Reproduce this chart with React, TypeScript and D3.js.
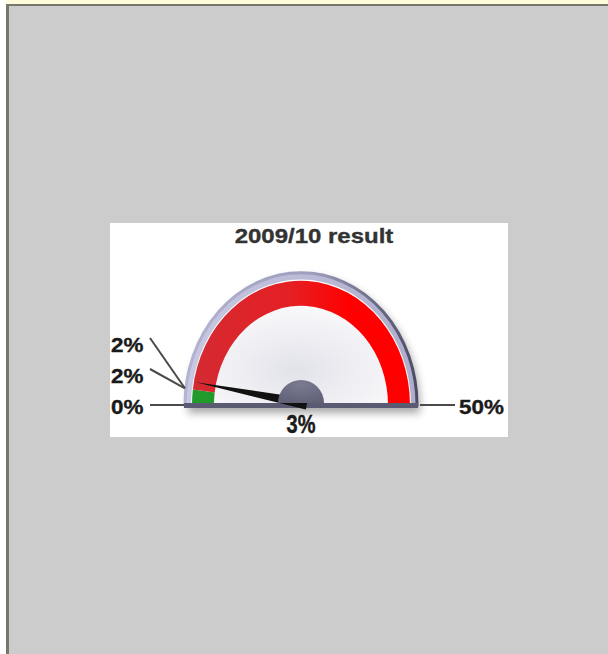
import * as d3 from 'd3'

// gauge data
const scaleMin = 0
const scaleMax = 50
const rangeStart = [0, 2]
const rangeEnd = [2, 50]
const rangeFill = ['#1f9a2b', 'url(#redBand)']
const needleValue = 3
const leftLabels = [0, 2, 2] // bottom to top
const rightLabels = [50]
const title = '2009/10 result'

const W = 608
const H = 654
const panel = { x: 110, y: 223, w: 398, h: 214 }
const cx = 301
const cy = 405
const SY = 1.14 // the dial is drawn a bit taller than wide
const R = { bezel: 116, face: 110, bandOut: 109, bandIn: 87, needle: 107, hub: 23, label: 117 }

const angle = d3.scaleLinear().domain([scaleMin, scaleMax]).range([-Math.PI / 2, Math.PI / 2])
const pt = (v: number, r: number): [number, number] => [
  cx + r * Math.sin(angle(v)),
  cy - r * Math.cos(angle(v)) * SY,
]
const fmt = (v: number) => `${v}%`

const arc = d3.arc<any>()
const half = (r: number) =>
  arc({ innerRadius: 0, outerRadius: r, startAngle: -Math.PI / 2, endAngle: Math.PI / 2 }) as string

function Label({ x, y, text, sx = 1.15, sy = 1, anchor = 'start', size = 19.5, fill = '#1a1a1a' }: any) {
  return (
    <text
      transform={`translate(${x},${y}) scale(${sx},${sy})`}
      textAnchor={anchor}
      fontFamily="'Liberation Sans', Arial, sans-serif"
      fontWeight="bold"
      fontSize={size}
      fill={fill}
      stroke={fill}
      strokeWidth={0.35}
    >
      {text}
    </text>
  )
}

export default function App() {
  // stack the left labels so they do not overlap
  let prev = Infinity
  const left = leftLabels.map(v => {
    const [ax, ay] = pt(v, R.label)
    const y = Math.min(ay + 2, prev - 31)
    prev = y
    const stacked = y < ay - 3
    return { v, ax, ay, y, ly: stacked ? y - 7 : ay }
  })
  const right = rightLabels.map(v => {
    const [ax, ay] = pt(v, R.label)
    return { v, ax, ay, y: ay + 2 }
  })

  const [tx, ty] = pt(needleValue, R.needle)
  const px = cx, py = cy - 2
  const len = Math.hypot(tx - px, ty - py)
  const nx = -(ty - py) / len, ny = (tx - px) / len
  const ux = (px - tx) / len, uy = (py - ty) / len
  const needle = [
    [px + nx * 5.5 + ux * 6, py + ny * 5.5 + uy * 6],
    [tx, ty],
    [px - nx * 5.5 + ux * 6, py - ny * 5.5 + uy * 6],
  ]

  return (
    <svg width={W} height={H} style={{ position: 'fixed', left: 0, top: 0 }}>
      <defs>
        <linearGradient id="redBand" gradientUnits="userSpaceOnUse" x1={-R.bandOut} x2={R.bandOut} y1={0} y2={0}>
          <stop offset="0" stopColor="#d42a32" />
          <stop offset="0.45" stopColor="#e42024" />
          <stop offset="0.72" stopColor="#ff0000" />
          <stop offset="1" stopColor="#ff0000" />
        </linearGradient>
        <linearGradient id="rim" gradientUnits="userSpaceOnUse" x1={-R.bezel} x2={R.bezel} y1={0} y2={0}>
          <stop offset="0" stopColor="#b4b4d2" />
          <stop offset="0.55" stopColor="#9c9cbc" />
          <stop offset="1" stopColor="#4c4c66" />
        </linearGradient>
        <linearGradient id="bezelFill" gradientUnits="userSpaceOnUse" x1={-R.bezel} x2={R.bezel} y1={0} y2={0}>
          <stop offset="0" stopColor="#c8c8e2" />
          <stop offset="1" stopColor="#aeaecc" />
        </linearGradient>
        <radialGradient id="face" cx="0.48" cy="0.72" r="0.65">
          <stop offset="0" stopColor="#e2e2ea" />
          <stop offset="0.55" stopColor="#f2f2f6" />
          <stop offset="1" stopColor="#ffffff" />
        </radialGradient>
        <radialGradient id="hub" cx="0.5" cy="0.2" r="0.9">
          <stop offset="0" stopColor="#7a7a90" />
          <stop offset="1" stopColor="#5e5e74" />
        </radialGradient>
        <filter id="shadow" x="-20%" y="-20%" width="140%" height="140%">
          <feGaussianBlur stdDeviation="4" />
        </filter>
      </defs>

      {/* page frame */}
      <rect width={W} height={H} fill="#ffffff" />
      <rect x={6} y={0} width={W} height={4} fill="#fffcdc" />
      <rect x={6} y={4} width={W} height={2} fill="#77776b" />
      <rect x={6} y={4} width={3} height={H} fill="#77776b" />
      <rect x={9} y={6} width={W} height={H} fill="#cccccc" />

      <rect x={panel.x} y={panel.y} width={panel.w} height={panel.h} fill="#ffffff" />

      <Label x={314} y={243} text={title} anchor="middle" size={20} sx={1.2} fill="#333333" />

      {/* shadow */}
      <g filter="url(#shadow)" opacity={0.35}>
        <path d={half(R.bezel)} transform={`translate(${cx + 3},${cy + 4}) scale(1,${SY})`} fill="#000" />
        <rect x={cx - R.bezel + 3} y={cy} width={R.bezel * 2} height={8} fill="#000" />
      </g>

      {/* bezel and face */}
      <g transform={`translate(${cx},${cy}) scale(1,${SY})`}>
        <path d={half(R.bezel)} fill="url(#bezelFill)" stroke="url(#rim)" strokeWidth={3} vectorEffect="non-scaling-stroke" />
        <path d={half(R.face)} fill="url(#face)" />
        {rangeStart.map((s, i) => (
          <path
            key={i}
            d={arc({ innerRadius: R.bandIn, outerRadius: R.bandOut, startAngle: angle(s), endAngle: angle(rangeEnd[i]) }) as string}
            fill={rangeFill[i]}
          />
        ))}
      </g>
      <rect x={cx - R.bezel - 1} y={cy - 2} width={R.bezel * 2 + 2} height={5} fill="#5a5a72" />

      {/* needle and hub */}
      <polygon points={needle.map(p => p.join(',')).join(' ')} fill="#111111" />
      <path d={half(R.hub)} transform={`translate(${cx},${cy - 2})`} fill="url(#hub)" />

      {/* labels */}
      {left.map((d, i) => (
        <g key={'l' + i}>
          <line x1={150} y1={d.ly} x2={d.ax} y2={d.ay} stroke="#4a4a4a" strokeWidth={2} />
          <Label x={panel.x + 1} y={d.y + 7} text={fmt(d.v)} />
        </g>
      ))}
      {right.map((d, i) => (
        <g key={'r' + i}>
          <line x1={d.ax + 2} y1={d.ay} x2={455} y2={d.ay} stroke="#4a4a4a" strokeWidth={2} />
          <Label x={459} y={d.y + 7} text={fmt(d.v)} />
        </g>
      ))}
      <Label x={cx} y={433} text={fmt(needleValue)} anchor="middle" size={20} sx={1} sy={1.25} />
    </svg>
  )
}
